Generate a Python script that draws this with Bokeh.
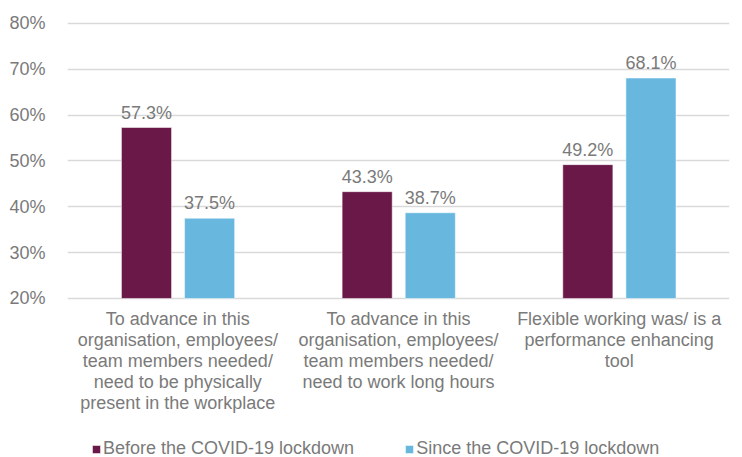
from bokeh.plotting import figure
from bokeh.models import ColumnDataSource, FactorRange, Range1d, NumeralTickFormatter, FixedTicker, Legend, LegendItem, LabelSet
from bokeh.transform import dodge
from bokeh.core.properties import value
from bokeh.embed import file_html
from bokeh.resources import INLINE

categories = [
    "To advance in this\norganisation, employees/\nteam members needed/\nneed to be physically\npresent in the workplace",
    "To advance in this\norganisation, employees/\nteam members needed/\nneed to work long hours",
    "Flexible working was/ is a\nperformance enhancing\ntool",
]
before = [0.573, 0.433, 0.492]
since = [0.375, 0.387, 0.681]
series_names = ["Before the COVID-19 lockdown", "Since the COVID-19 lockdown"]
y_ticks = [0.2, 0.3, 0.4, 0.5, 0.6, 0.7, 0.8]
y_floor = 0.2

MAROON = "#6A1848"
BLUE = "#67B7DF"
GRAY = "#7a7a7a"
FONT = "Liberation Sans"
LINE_H = 21

src = ColumnDataSource(dict(
    cat=categories, before=before, since=since,
    before_lbl=[f"{v*100:.1f}%" for v in before],
    since_lbl=[f"{v*100:.1f}%" for v in since],
))

# one entry per line of each category label, so that every line is centred
lx, ly, lt, lo = [], [], [], []
for c in categories:
    for i, line in enumerate(c.split("\n")):
        lx.append(c); ly.append(y_floor); lt.append(line); lo.append(-11 - LINE_H * i)
cat_src = ColumnDataSource(dict(x=lx, y=ly, text=lt, yoff=lo))

# the frame extends below the 20% line so the category labels and legend fit inside it
p = figure(width=742, height=457, x_range=FactorRange(*categories, range_padding=0),
           y_range=Range1d(-0.147, 0.8065), output_backend="svg", toolbar_location=None,
           min_border_left=67, min_border_right=13, min_border_top=20, min_border_bottom=0)
p.outline_line_color = None

r1 = p.vbar(x=dodge("cat", -0.142, range=p.x_range), top="before", bottom=y_floor, width=0.227,
            source=src, fill_color=MAROON, line_color="#ffffff", line_width=0.5)
r2 = p.vbar(x=dodge("cat", 0.144, range=p.x_range), top="since", bottom=y_floor, width=0.227,
            source=src, fill_color=BLUE, line_color="#ffffff", line_width=0.5)

for xoff, col in [(-0.142, "before"), (0.144, "since")]:
    p.add_layout(LabelSet(x=dodge("cat", xoff, range=p.x_range), y=col, text=col + "_lbl",
                          source=src, text_align="center", text_baseline="bottom", y_offset=5,
                          text_font=value(FONT), text_font_size="18px", text_color=GRAY))

# category labels below the 20% line
p.add_layout(LabelSet(x="x", y="y", text="text", y_offset="yoff", source=cat_src,
                      text_align="center", text_baseline="top", text_font=value(FONT),
                      text_font_size="18px", text_color=GRAY))

p.xaxis.visible = False
p.yaxis.ticker = FixedTicker(ticks=y_ticks)
p.yaxis.formatter = NumeralTickFormatter(format="0%")
p.yaxis.axis_line_color = None
p.yaxis.major_tick_line_color = None
p.yaxis.minor_tick_line_color = None
p.yaxis.major_label_text_font = FONT
p.yaxis.major_label_text_font_size = "18px"
p.yaxis.major_label_text_color = GRAY
p.yaxis.major_label_standoff = 16

p.xgrid.grid_line_color = None
p.ygrid.grid_line_color = "#d9d9d9"
p.ygrid.grid_line_width = 1.5

legend = Legend(items=[LegendItem(label=series_names[0], renderers=[r1]),
                       LegendItem(label=series_names[1], renderers=[r2])],
                orientation="horizontal", location=(24, -2), border_line_color=None,
                background_fill_alpha=0,
                label_text_font=FONT, label_text_font_size="18px", label_text_color=GRAY,
                glyph_width=10, glyph_height=10, spacing=50, label_standoff=2, padding=0, margin=0)
p.add_layout(legend, "center")

open("out.html", "w").write(file_html(p, INLINE))
